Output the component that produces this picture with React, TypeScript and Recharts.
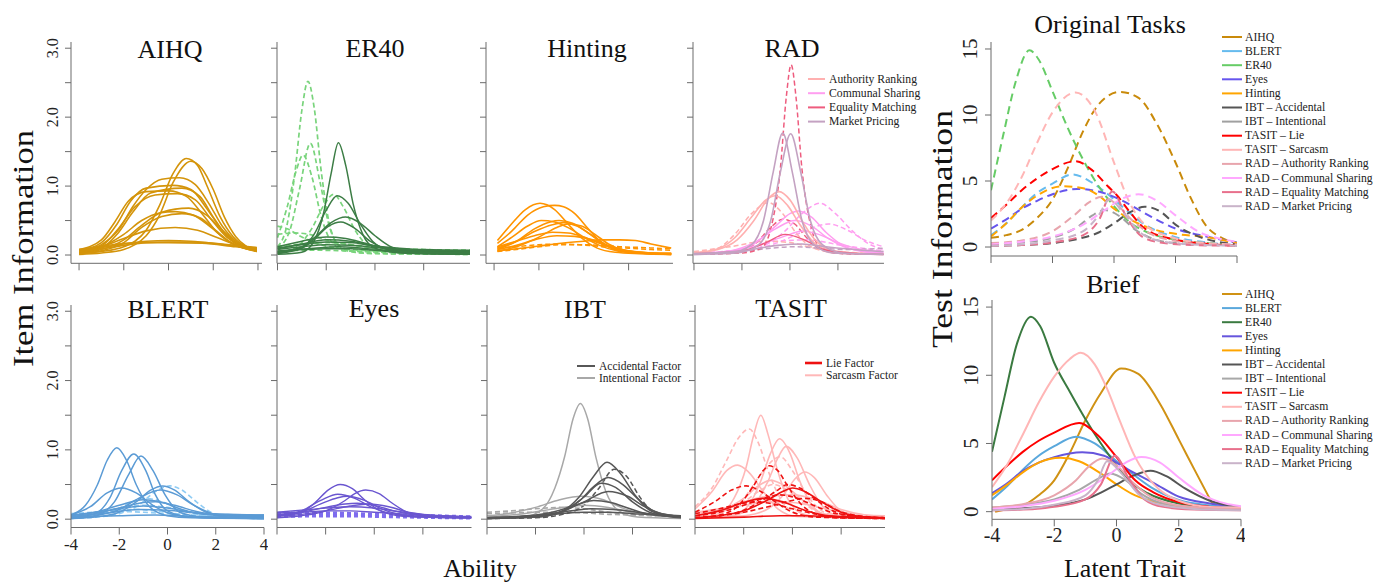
import React from 'react'
import { LineChart, Line, XAxis, YAxis } from 'recharts'

type Curve = [number, number][]

// item information curves, [ability, information]
const aihqItems: Curve[] = [
  [[-4, .02], [-3, .05], [-2, .12], [-1.5, .2], [-1, .36], [-0.4, .72], [0.2, 1.18], [0.8, 1.4], [1.3, 1.3], [1.7, 1.02], [2.3, .56], [2.9, .26], [3.5, .11], [3.95, .06]],
  [[-4, .01], [-3, .03], [-2, .08], [-1.5, .15], [-1, .28], [-0.4, .58], [0.2, 1.05], [1.0, 1.36], [1.5, 1.25], [2, .95], [2.5, .55], [3, .27], [3.5, .12], [3.95, .05]],
  [[-4, .05], [-3, .15], [-2.2, .38], [-1.6, .7], [-1, .95], [-0.3, 1.1], [0.5, 1.12], [1.2, 1.02], [1.8, .75], [2.4, .42], [3, .2], [3.95, .07]],
  [[-4, .06], [-3, .18], [-2.3, .45], [-1.7, .78], [-1, .97], [0.2, 1.01], [1, .95], [1.7, .68], [2.3, .4], [3, .18], [3.95, .07]],
  [[-4, .03], [-3, .1], [-2.3, .3], [-1.6, .62], [-0.8, .9], [0.6, .97], [1.4, .85], [2, .55], [2.6, .28], [3.2, .13], [3.95, .06]],
  [[-4, .08], [-3, .22], [-2.4, .48], [-1.8, .78], [-1, .92], [0, .93], [0.8, .85], [1.5, .6], [2.2, .32], [3, .14], [3.95, .06]],
  [[-4, .04], [-3, .13], [-2.2, .4], [-1.5, .7], [-0.6, .87], [0.4, .89], [1.2, .8], [1.9, .52], [2.6, .26], [3.3, .12], [3.95, .07]],
  [[-4, .03], [-3, .08], [-2, .22], [-1.2, .43], [-0.3, .62], [0.9, .68], [1.7, .58], [2.4, .36], [3.1, .18], [3.95, .08]],
  [[-4, .05], [-3, .12], [-2, .3], [-1.2, .5], [-0.4, .61], [0.3, .63], [1.1, .58], [1.9, .4], [2.6, .22], [3.3, .11], [3.95, .08]],
  [[-4, .02], [-3, .06], [-2, .18], [-1.2, .4], [-0.3, .56], [0.6, .6], [1.4, .54], [2.1, .36], [2.8, .18], [3.95, .05]],
  [[-4, .06], [-3, .12], [-2, .24], [-1, .35], [0.3, .4], [1.3, .36], [2.2, .25], [3, .15], [3.95, .1]],
  [[-4, .07], [-3, .11], [-2, .16], [-1, .2], [0, .21], [1, .2], [2, .17], [3, .13], [3.95, .1]],
  [[-4, .05], [-3, .09], [-2, .14], [-1, .18], [0, .19], [1, .19], [2, .17], [3, .14], [3.95, .11]],
  [[-4, .08], [-2.5, .15], [-1.2, .18], [0, .18], [1.5, .17], [3, .12], [3.95, .09]],
]

const er40Brief: Curve[] = [
  [[-4, .01], [-3, .04], [-2.5, .2], [-2.1, .62], [-1.8, 1.18], [-1.5, 1.63], [-1.2, 1.3], [-0.9, .75], [-0.5, .3], [0, .1], [1, .03], [3.9, .01]],
  [[-4, .02], [-3, .1], [-2.5, .3], [-2, .65], [-1.55, .86], [-1.1, .75], [-0.6, .45], [-0.1, .2], [0.6, .07], [1.5, .03], [3.9, .01]],
  [[-4, .04], [-3, .12], [-2.4, .28], [-1.8, .47], [-1.2, .55], [-0.6, .46], [0, .28], [0.6, .13], [1.4, .05], [3.9, .02]],
  [[-4, .03], [-3, .1], [-2.4, .26], [-1.9, .42], [-1.4, .48], [-0.8, .38], [-0.2, .2], [0.5, .08], [1.5, .03], [3.9, .02]],
  [[-4, .12], [-3, .2], [-2, .26], [-1.2, .24], [-0.3, .16], [0.6, .09], [1.6, .06], [3.9, .05]],
  [[-4, .09], [-3, .16], [-2, .22], [-1, .2], [0, .13], [1, .08], [2, .06], [3.9, .05]],
  [[-4, .1], [-3, .15], [-2, .19], [-1, .18], [0, .13], [1, .1], [2, .08], [3.9, .07]],
  [[-4, .08], [-3, .12], [-2, .15], [-1, .14], [0, .11], [1, .08], [2, .07], [3.9, .06]],
  [[-4, .06], [-2.5, .1], [-1.5, .12], [-0.5, .1], [0.5, .07], [2, .05], [3.9, .04]],
  [[-4, .05], [-2, .09], [-1, .09], [0, .07], [1, .05], [3.9, .03]],
]
const er40Dropped: Curve[] = [
  [[-4, .12], [-3.6, .45], [-3.3, 1.15], [-3.0, 2.1], [-2.75, 2.52], [-2.5, 2.15], [-2.2, 1.2], [-1.9, .5], [-1.5, .15], [-1, .05], [0, .02], [3.9, .01]],
  [[-4, .1], [-3.5, .35], [-3.1, .95], [-2.65, 1.62], [-2.25, 1.05], [-1.9, .45], [-1.4, .12], [-0.5, .03], [3.9, .01]],
  [[-4, .25], [-3.6, .7], [-3.25, 1.2], [-2.95, 1.45], [-2.6, 1.15], [-2.2, .55], [-1.8, .2], [-1.2, .06], [3.9, .02]],
  [[-4, .03], [-3.2, .12], [-2.6, .38], [-2.1, .72], [-1.7, .88], [-1.3, .7], [-0.8, .35], [-0.2, .12], [0.8, .05], [3.9, .02]],
  [[-4, .42], [-3.6, .38], [-3.1, .28], [-2.5, .18], [-1.5, .1], [0, .06], [3.9, .04]],
  [[-4, .3], [-3.3, .32], [-2.7, .3], [-2, .22], [-1, .15], [0, .1], [1, .08], [2, .06], [3.9, .05]],
  [[-4, .12], [-3, .16], [-2, .18], [-1, .15], [0, .11], [1, .09], [2, .08], [3.9, .07]],
  [[-4, .05], [-2.5, .07], [-1, .06], [0.5, .05], [3.9, .04]],
]

const hintingBrief: Curve[] = [
  [[-3.85, .21], [-3.3, .42], [-2.6, .66], [-1.95, .75], [-1.3, .66], [-0.7, .45], [-0.1, .25], [0.6, .1], [1.4, .04], [2.5, .02], [3.9, .01]],
  [[-3.85, .17], [-3.2, .35], [-2.5, .58], [-1.8, .7], [-1.3, .72], [-0.9, .7], [-0.4, .6], [0.2, .38], [0.8, .18], [1.5, .07], [2.5, .03], [3.9, .01]],
  [[-3.85, .12], [-3.2, .26], [-2.5, .42], [-1.9, .5], [-1.3, .48], [-0.6, .38], [0, .26], [0.7, .14], [1.5, .06], [2.5, .03], [3.9, .02]],
  [[-3.85, .08], [-3, .2], [-2.2, .38], [-1.5, .48], [-1.1, .5], [-0.5, .46], [0.2, .32], [0.9, .16], [1.6, .07], [2.5, .03], [3.9, .02]],
  [[-3.85, .1], [-3, .2], [-2.2, .34], [-1.4, .44], [-0.9, .47], [-0.3, .42], [0.4, .28], [1, .15], [1.7, .06], [3, .02], [3.9, .01]],
  [[-3.85, .12], [-3, .2], [-2.2, .28], [-1.4, .33], [-0.7, .32], [0, .26], [0.7, .17], [1.4, .09], [2.5, .04], [3.9, .02]],
  [[-3.85, .08], [-3, .14], [-2.2, .22], [-1.2, .28], [-0.4, .27], [0.4, .22], [1.2, .12], [2, .06], [3, .03], [3.9, .02]],
  [[-3.85, .06], [-3, .09], [-2, .13], [-1, .17], [0, .2], [0.8, .22], [1.6, .22], [2.3, .21], [3, .16], [3.9, .1]],
  [[-3.85, .06], [-3, .12], [-2, .26], [-1.2, .4], [-0.7, .45], [-0.1, .42], [0.5, .3], [1.1, .16], [1.8, .07], [3, .03], [3.9, .02]],
]
const hintingDropped: Curve[] = [
  [[-3.85, .05], [-3, .08], [-2, .12], [-1, .15], [0, .15], [0.8, .14], [1.6, .12], [2.5, .11], [3.2, .1], [3.9, .09]],
  [[-3.85, .1], [-3, .12], [-2, .15], [-1, .16], [-0.2, .15], [0.5, .13], [1.2, .11], [2, .1], [3, .08], [3.9, .07]],
]

const radArBrief: Curve[] = [
  [[-4, .03], [-3, .08], [-2.2, .22], [-1.5, .5], [-0.9, .82], [-0.45, .92], [0, .8], [0.5, .5], [1, .24], [1.7, .07], [3, .02], [3.9, .01]],
  [[-4, .03], [-3, .09], [-2.3, .25], [-1.6, .55], [-1.0, .8], [-0.6, .86], [-0.1, .72], [0.4, .45], [1, .18], [1.7, .05], [3.9, .01]],
]
const radArDropped: Curve[] = [
  [[-4, .03], [-3, .1], [-2.3, .3], [-1.6, .6], [-0.9, .76], [-0.3, .6], [0.3, .3], [1, .1], [2, .03], [3.9, .01]],
  [[-4, .05], [-2.5, .12], [-1, .2], [0, .18], [1, .1], [2, .05], [3.9, .02]],
]
const radCsBrief: Curve[] = [
  [[-4, .01], [-2.5, .05], [-1.5, .16], [-0.6, .42], [0, .6], [0.35, .64], [0.9, .55], [1.5, .33], [2.2, .14], [3, .05], [3.9, .02]],
  [[-4, .02], [-2.5, .06], [-1.5, .18], [-0.6, .38], [0.2, .5], [0.9, .42], [1.6, .24], [2.4, .1], [3.9, .03]],
  [[-4, .02], [-2, .08], [-1, .18], [0, .3], [0.5, .35], [1.2, .3], [2, .18], [3, .08], [3.9, .05]],
]
const radCsDropped: Curve[] = [
  [[-4, .01], [-2, .05], [-1, .15], [-0.2, .35], [0.5, .6], [1.25, .75], [1.9, .6], [2.6, .35], [3.3, .16], [3.9, .08]],
  [[-4, .02], [-2, .06], [-0.5, .18], [0.5, .33], [1.6, .45], [2.4, .36], [3.1, .22], [3.9, .12]],
  [[-4, .03], [-2, .08], [-0.5, .2], [0.8, .22], [2, .15], [3.9, .06]],
]
const radEmBrief: Curve[] = [
  [[-4, .02], [-2, .06], [-1, .18], [-0.2, .3], [0.6, .22], [1.4, .08], [2.5, .03], [3.9, .01]],
]
const radEmDropped: Curve[] = [
  [[-4, .01], [-2, .03], [-1.2, .1], [-0.8, .38], [-0.4, 1.25], [-0.15, 2.3], [0.05, 2.76], [0.25, 2.3], [0.5, 1.25], [0.9, .38], [1.3, .1], [2, .03], [3.9, .01]],
  [[-4, .01], [-2.5, .04], [-1.5, .15], [-0.8, .4], [-0.3, .52], [0.2, .45], [0.7, .25], [1.3, .08], [2.2, .02], [3.9, .01]],
]
const radMpBrief: Curve[] = [
  [[-4, .01], [-2.5, .03], [-1.6, .15], [-1.1, .5], [-0.7, 1.2], [-0.3, 1.77], [0.1, 1.2], [0.5, .5], [1, .15], [1.8, .03], [3.9, .01]],
  [[-4, .01], [-2.2, .03], [-1.3, .15], [-0.8, .5], [-0.4, 1.2], [0.03, 1.76], [0.45, 1.2], [0.85, .5], [1.35, .15], [2.2, .03], [3.9, .01]],
  [[-4, .02], [-2, .06], [-0.5, .14], [0.5, .16], [1.5, .12], [3, .07], [3.9, .05]],
]
const radMpDropped: Curve[] = [
  [[-4, .02], [-2, .05], [-0.8, .1], [0.2, .12], [1.2, .1], [2.4, .08], [3.9, .1]],
]

const blertBrief: Curve[] = [
  [[-4, .06], [-3.4, .2], [-2.9, .5], [-2.5, .85], [-2.1, 1.03], [-1.7, .85], [-1.3, .5], [-0.8, .2], [0, .05], [1, .02], [4, .01]],
  [[-4, .02], [-3, .08], [-2.4, .3], [-1.9, .7], [-1.4, .94], [-0.9, .7], [-0.5, .35], [0, .12], [1, .03], [4, .01]],
  [[-4, .01], [-3, .05], [-2.2, .25], [-1.6, .65], [-1.1, .91], [-0.6, .7], [-0.1, .35], [0.5, .1], [1.5, .03], [4, .01]],
  [[-4, .06], [-3.2, .18], [-2.5, .38], [-1.9, .45], [-1.3, .38], [-0.6, .2], [0.2, .07], [1.5, .02], [4, .01]],
  [[-4, .01], [-3, .03], [-2, .1], [-1.3, .25], [-0.7, .42], [-0.2, .48], [0.3, .42], [0.9, .25], [1.6, .1], [2.5, .03], [4, .01]],
  [[-4, .02], [-3, .05], [-2, .14], [-1.2, .3], [-0.3, .42], [0.4, .35], [1.1, .2], [2, .07], [4, .02]],
  [[-4, .05], [-3, .1], [-2, .2], [-1, .28], [-0.2, .24], [0.6, .14], [1.5, .07], [2.5, .05], [4, .04]],
  [[-4, .03], [-3, .08], [-2, .16], [-1, .24], [-0.5, .25], [0.3, .2], [1.2, .11], [2.2, .06], [4, .05]],
  [[-4, .06], [-3, .1], [-2, .15], [-1, .19], [0, .16], [1, .1], [2, .07], [4, .06]],
  [[-4, .04], [-2.5, .09], [-1.2, .14], [0, .13], [1.2, .09], [2.5, .07], [4, .06]],
  [[-4, .03], [-2, .05], [-0.5, .06], [1, .04], [4, .03]],
]
const blertDropped: Curve[] = [
  [[-4, .01], [-3, .03], [-2, .08], [-1.2, .2], [-0.5, .4], [0.1, .48], [0.6, .42], [1.2, .25], [1.8, .1], [2.5, .04], [4, .02]],
  [[-4, .02], [-3, .06], [-2, .16], [-1.4, .26], [-0.9, .3], [-0.3, .26], [0.4, .16], [1.2, .07], [2.5, .02], [4, .01]],
  [[-4, .04], [-3, .1], [-2, .16], [-1, .2], [0, .17], [1, .1], [2, .05], [4, .03]],
  [[-4, .08], [-3, .1], [-2, .11], [-1, .1], [0, .08], [1, .06], [2.5, .04], [4, .03]],
  [[-4, .05], [-3, .09], [-2, .13], [-1.5, .14], [-0.5, .12], [0.5, .07], [1.5, .04], [4, .02]],
]

const eyesBrief: Curve[] = [
  [[-4, .05], [-3, .1], [-2.4, .25], [-1.9, .42], [-1.4, .5], [-0.9, .44], [-0.4, .28], [0.2, .13], [1, .05], [2, .03], [4, .02]],
  [[-4, .02], [-3, .05], [-2, .12], [-1.2, .27], [-0.8, .37], [-0.35, .42], [0.2, .37], [0.7, .24], [1.3, .11], [2.2, .04], [4, .02]],
  [[-4, .06], [-3, .12], [-2.2, .27], [-1.5, .36], [-0.8, .3], [-0.1, .17], [0.7, .08], [2, .03], [4, .02]],
  [[-4, .05], [-3, .1], [-2.2, .22], [-1.5, .31], [-1.1, .33], [-0.4, .27], [0.3, .15], [1.2, .06], [2.5, .03], [4, .02]],
  [[-4, .06], [-3, .1], [-2, .17], [-1.2, .22], [-0.7, .23], [0, .2], [0.8, .12], [1.8, .06], [4, .03]],
  [[-4, .04], [-3, .07], [-2, .12], [-1, .19], [-0.2, .22], [0.6, .18], [1.4, .1], [2.5, .05], [4, .03]],
  [[-4, .1], [-3, .13], [-2, .16], [-1, .18], [0, .16], [1, .11], [2, .07], [4, .04]],
  [[-4, .09], [-3, .1], [-2, .12], [-1, .12], [0, .1], [1, .08], [2.5, .05], [4, .03]],
]
const eyesDropped: Curve[] = [
  [[-4, .04], [-2.5, .05], [-1, .05], [0.5, .04], [2, .03], [4, .02]],
  [[-4, .08], [-2.5, .09], [-1, .08], [0.5, .06], [2, .05], [4, .03]],
]

const ibtIntBrief: Curve[] = [
  [[-4, .01], [-2.5, .03], [-1.7, .15], [-1.2, .45], [-0.8, .9], [-0.45, 1.45], [-0.15, 1.67], [0.15, 1.45], [0.5, .88], [0.9, .4], [1.4, .13], [2.2, .03], [4, .01]],
  [[-4, .05], [-3, .09], [-2, .17], [-1, .28], [-0.1, .33], [0.8, .28], [1.6, .16], [2.5, .07], [4, .03]],
  [[-4, .03], [-2.5, .08], [-1, .16], [0, .2], [1, .17], [2, .1], [3, .06], [4, .04]],
]
const ibtIntDropped: Curve[] = [
  [[-4, .1], [-3, .12], [-2, .15], [-1, .17], [0, .15], [1, .1], [2, .07], [3, .05], [4, .04]],
  [[-4, .08], [-3, .09], [-2, .1], [-1, .1], [0, .09], [1, .07], [2, .06], [4, .04]],
]
const ibtAccBrief: Curve[] = [
  [[-4, .01], [-2, .03], [-1, .1], [-0.2, .32], [0.4, .62], [0.95, .82], [1.5, .66], [2.1, .35], [2.7, .13], [3.4, .05], [4, .03]],
  [[-4, .01], [-2, .03], [-1, .1], [-0.2, .26], [0.4, .47], [1, .6], [1.6, .5], [2.2, .3], [2.8, .13], [3.5, .06], [4, .04]],
  [[-4, .02], [-2, .05], [-1, .1], [0, .25], [1, .4], [1.8, .33], [2.5, .18], [3.2, .08], [4, .04]],
  [[-4, .01], [-2, .03], [-0.8, .12], [0, .32], [0.7, .52], [1.3, .46], [2, .25], [2.7, .1], [3.5, .04], [4, .02]],
  [[-4, .02], [-2, .06], [-1, .13], [-0.2, .22], [0.4, .27], [1.1, .24], [1.9, .15], [2.7, .07], [4, .03]],
  [[-4, .02], [-2, .05], [-1, .08], [0, .1], [1, .1], [2, .08], [3, .06], [4, .05]],
  [[-4, .02], [-2, .05], [-0.5, .12], [0.3, .15], [1.2, .14], [2.2, .1], [3.2, .06], [4, .05]],
]
const ibtAccDropped: Curve[] = [
  [[-4, .01], [-2, .02], [-1, .06], [0, .2], [0.6, .44], [1.25, .72], [1.8, .6], [2.3, .32], [2.8, .12], [3.4, .05], [4, .03]],
]

const tasitSarcBrief: Curve[] = [
  [[-4, .03], [-3, .08], [-2.4, .3], [-1.9, .75], [-1.6, 1.2], [-1.3, 1.5], [-1, 1.22], [-0.65, .75], [-0.2, .3], [0.4, .08], [1.2, .03], [3.8, .02]],
  [[-4, .02], [-2.5, .05], [-1.8, .2], [-1.3, .55], [-0.9, .95], [-0.53, 1.16], [-0.1, .95], [0.3, .55], [0.8, .2], [1.5, .05], [3.8, .02]],
  [[-4, .02], [-2.5, .05], [-1.6, .2], [-1, .55], [-0.6, .88], [-0.26, 1.05], [0.2, .88], [0.7, .5], [1.2, .2], [1.9, .05], [3.8, .02]],
  [[-4, .02], [-2, .05], [-1, .15], [-0.3, .38], [0.1, .58], [0.5, .68], [0.9, .6], [1.4, .35], [2, .12], [2.8, .04], [3.8, .03]],
  [[-4, .15], [-3.3, .4], [-2.7, .7], [-2.25, .78], [-1.8, .68], [-1.2, .4], [-0.6, .15], [0.2, .04], [3.8, .02]],
  [[-4, .05], [-3, .12], [-2, .3], [-1.4, .48], [-0.9, .56], [-0.3, .48], [0.4, .28], [1.1, .1], [2, .04], [3.8, .03]],
  [[-4, .08], [-3, .14], [-2, .25], [-1, .33], [0, .35], [1, .28], [2, .14], [3, .06], [3.8, .04]],
  [[-4, .1], [-3, .15], [-2, .2], [-1, .25], [0, .24], [1, .18], [2, .1], [3, .06], [3.8, .05]],
]
const tasitSarcDropped: Curve[] = [
  [[-4, .18], [-3.3, .45], [-2.7, .85], [-2.2, 1.18], [-1.77, 1.3], [-1.4, 1.1], [-1, .7], [-0.5, .3], [0.2, .08], [1, .03], [3.8, .02]],
  [[-4, .05], [-3, .1], [-2, .3], [-1.4, .6], [-0.9, .82], [-0.5, .9], [0, .7], [0.6, .35], [1.3, .1], [2.2, .03], [3.8, .02]],
  [[-4, .04], [-3, .1], [-2, .25], [-1.3, .42], [-0.8, .5], [-0.2, .42], [0.5, .22], [1.3, .07], [3.8, .02]],
]
const tasitLieBrief: Curve[] = [
  [[-4, .02], [-3, .05], [-2, .12], [-1, .28], [-0.4, .4], [0, .45], [0.5, .4], [1.2, .25], [2, .1], [3, .03], [3.8, .02]],
  [[-4, .05], [-3, .12], [-2, .24], [-1.2, .3], [-0.4, .25], [0.5, .13], [1.5, .05], [3.8, .02]],
  [[-4, .01], [-2, .03], [-0.5, .05], [0.5, .05], [2, .03], [3.8, .01]],
]
const tasitLieDropped: Curve[] = [
  [[-4, .02], [-3, .06], [-2.2, .2], [-1.6, .48], [-1.2, .7], [-0.95, .77], [-0.6, .7], [-0.2, .48], [0.4, .2], [1.1, .06], [2, .02], [3.8, .01]],
  [[-4, .02], [-3, .05], [-2, .13], [-1.2, .28], [-0.6, .42], [-0.2, .5], [0.3, .45], [0.9, .3], [1.5, .15], [2.3, .05], [3.8, .02]],
  [[-4, .1], [-3.2, .25], [-2.5, .42], [-1.9, .48], [-1.3, .4], [-0.7, .25], [0, .1], [1, .03], [3.8, .01]],
  [[-4, .05], [-3, .1], [-2, .2], [-1, .32], [-0.5, .35], [0.2, .3], [1, .18], [1.8, .08], [3.8, .02]],
  [[-4, .02], [-3, .05], [-2, .1], [-1, .18], [0, .27], [0.5, .3], [1.2, .25], [1.9, .12], [2.7, .05], [3.8, .02]],
  [[-4, .08], [-3, .15], [-2, .23], [-1.5, .25], [-0.8, .22], [0, .15], [1, .07], [2, .03], [3.8, .02]],
]

// test information, original tasks (dashed) and brief forms (solid)
const taskNames = ['AIHQ', 'BLERT', 'ER40', 'Eyes', 'Hinting', 'IBT – Accidental', 'IBT – Intentional', 'TASIT – Lie', 'TASIT – Sarcasm', 'RAD – Authority Ranking', 'RAD – Communal Sharing', 'RAD – Equality Matching', 'RAD – Market Pricing']

const originalInfo: Curve[] = [
  [[-4, .7], [-3.5, .9], [-3, 1.3], [-2.5, 2.2], [-2, 3.6], [-1.5, 6], [-1, 8.8], [-0.5, 10.8], [0.2, 11.75], [0.8, 11.3], [1.4, 9.3], [2, 6.4], [2.5, 3.7], [3, 1.6], [3.5, .7], [4, .3]],
  [[-4, .9], [-3.5, 1.8], [-3, 3], [-2.5, 4.1], [-2, 4.8], [-1.35, 5.5], [-0.8, 5], [-0.2, 4], [0.4, 2.8], [1, 1.7], [2, .75], [3, .35], [4, .15]],
  [[-4, 4.3], [-3.6, 8.5], [-3.2, 12.5], [-2.75, 14.9], [-2.45, 14.2], [-2, 11.8], [-1.5, 9], [-1, 6.6], [-0.5, 4.6], [0, 3.1], [0.5, 1.9], [1, 1.2], [2, .55], [3, .3], [4, .2]],
  [[-4, 1.4], [-3.5, 2.1], [-3, 2.9], [-2.5, 3.5], [-2, 4], [-1.2, 4.4], [-0.5, 4.2], [0, 3.8], [0.6, 3.1], [1.2, 2.3], [2, 1.4], [3, .8], [4, .35]],
  [[-4, .8], [-3.5, 1.8], [-3, 3], [-2.5, 3.9], [-1.7, 4.6], [-1, 4.45], [-0.5, 3.9], [0, 2.9], [0.6, 2], [1.2, 1.4], [2, 1], [3, .75], [4, .3]],
  [[-4, .1], [-3, .15], [-2, .3], [-1.2, .6], [-0.5, 1.1], [0, 1.8], [0.5, 2.6], [1, 3.05], [1.5, 2.7], [2, 1.7], [2.8, .75], [3.5, .35], [4, .2]],
  [[-4, .2], [-3, .35], [-2, .7], [-1.2, 1.5], [-0.7, 2.4], [-0.3, 2.8], [0.2, 2.3], [0.7, 1.3], [1.3, .6], [2, .3], [3, .2], [4, .1]],
  [[-4, 2.2], [-3.5, 3.2], [-3, 4.3], [-2.5, 5.2], [-2, 5.9], [-1.25, 6.5], [-0.7, 5.8], [-0.2, 4.6], [0.1, 3.9], [0.5, 2.7], [1, 1.4], [2, .55], [3, .25], [4, .1]],
  [[-4, 2], [-3.5, 3.3], [-3, 5.3], [-2.5, 7.9], [-2, 10.2], [-1.25, 11.7], [-0.6, 10.2], [0, 6.4], [0.5, 3.4], [1, 1.7], [2, .65], [3, .3], [4, .2]],
  [[-4, .3], [-3, .5], [-2, 1.2], [-1.3, 2.4], [-0.8, 3.4], [-0.4, 3.8], [0.1, 3.2], [0.6, 2], [1.2, 1], [2, .45], [3, .2], [4, .15]],
  [[-4, .2], [-3, .4], [-2, .8], [-1, 1.7], [-0.3, 2.8], [0.3, 3.7], [0.8, 4], [1.4, 3.5], [2, 2.4], [2.8, 1.1], [3.5, .6], [4, .4]],
  [[-4, .1], [-3, .15], [-2, .35], [-1, .9], [-0.5, 2], [-0.05, 4.2], [0.4, 2.3], [0.9, .8], [1.5, .35], [2.5, .15], [4, .1]],
  [[-4, .1], [-3, .2], [-2, .5], [-1, 1.2], [-0.5, 2.4], [-0.15, 3.6], [0.3, 2.6], [0.8, 1.2], [1.5, .45], [2.5, .2], [4, .1]],
]
const briefInfo: Curve[] = [
  [[-3.9, 0], [-3.5, .2], [-3, .45], [-2.5, 1.2], [-2, 2.3], [-1.5, 4.3], [-1, 6.7], [-0.5, 8.7], [0.15, 10.5], [0.7, 10.1], [1.4, 7.9], [2, 5.3], [2.5, 3.1], [3.1, .5]],
  [[-4, .9], [-3.5, 1.9], [-3, 3.1], [-2.5, 4.1], [-2, 4.8], [-1.3, 5.5], [-0.7, 5], [-0.1, 3.9], [0.5, 2.8], [1.1, 1.8], [2, .85], [3, .45], [4, .3]],
  [[-4, 4.4], [-3.6, 8.4], [-3.2, 12.3], [-2.75, 14.3], [-2.45, 13.6], [-2, 10.9], [-1.5, 8.8], [-1, 6.8], [-0.5, 5], [0, 3.4], [0.5, 2.1], [1, 1.35], [2, .6], [3, .3], [4, .2]],
  [[-4, 1.35], [-3.5, 2.1], [-3, 3], [-2.5, 3.6], [-2, 4], [-1.1, 4.35], [-0.4, 4.1], [0, 3.6], [0.6, 2.8], [1.2, 2.1], [2, 1.1], [3, .6], [4, .35]],
  [[-4, 1.2], [-3.5, 2], [-3, 2.9], [-2.5, 3.6], [-1.8, 3.95], [-1.2, 3.7], [-0.5, 2.8], [0, 2], [0.5, 1.3], [1, .85], [2, .4], [3.4, .2]],
  [[-4, .2], [-3, .25], [-2, .45], [-1, .9], [-0.5, 1.4], [0, 2], [0.5, 2.6], [1.1, 3], [1.6, 2.6], [2.2, 1.7], [3, .8], [4, .35]],
  [[-4, .3], [-3, .5], [-2, .9], [-1.2, 1.6], [-0.6, 2.4], [-0.2, 2.8], [0.3, 2.3], [0.8, 1.3], [1.5, .6], [2.5, .35], [4, .3]],
  [[-4, 2.3], [-3.5, 3.4], [-3, 4.4], [-2.5, 5.2], [-2, 5.8], [-1.2, 6.5], [-0.6, 5.6], [0, 4], [0.6, 2.3], [1.2, 1.4], [2, .7], [3, .35], [4, .2]],
  [[-4, 1.8], [-3.5, 3.5], [-3, 5.7], [-2.5, 8], [-2, 9.9], [-1.5, 11.2], [-1.15, 11.65], [-0.7, 10.8], [-0.3, 9], [0.1, 6.7], [0.6, 4], [1.2, 2], [2, .8], [3, .35], [4, .3]],
  [[-4, .3], [-3, .55], [-2, 1.2], [-1.3, 2.3], [-0.9, 3.3], [-0.45, 3.9], [0, 3.4], [0.5, 2.2], [1.1, 1.1], [2, .45], [3, .25], [4, .2]],
  [[-4, .2], [-3, .4], [-2, .8], [-1, 1.6], [-0.3, 2.6], [0.3, 3.6], [0.8, 4], [1.4, 3.6], [2, 2.5], [2.8, 1.2], [3.5, .6], [4, .4]],
  [[-4, .1], [-3, .15], [-2, .35], [-1, .9], [-0.5, 2], [-0.05, 4.1], [0.4, 2.4], [0.9, .9], [1.5, .35], [2.5, .15], [4, .1]],
  [[-4, .1], [-3, .2], [-2, .5], [-1, 1.2], [-0.6, 2.3], [-0.3, 3.7], [0.2, 2.7], [0.7, 1.3], [1.4, .5], [2.5, .2], [4, .1]],
]

const abilityTicks = [-4, -2, 0, 2, 4]
const itemInfoTicks = [0, 0.5, 1, 1.5, 2, 2.5, 3]
const testInfoTicks = [0, 5, 10, 15]

const FONT = "'Liberation Serif', 'Times New Roman', serif"
const AXIS = '#6b6b6b'
const AX = 60
const BX = 36
const MT = 14

const C = {
  aihq: '#D4940A', er40: '#3C7D45', er40Light: '#79D47C', hint: '#FF9400',
  blert: '#5B9BD5', blertLight: '#90CCF4', eyes: '#6A56D0', eyesLight: '#7E6CEE',
  acc: '#575757', int: '#A8A8A8', lie: '#EE1111', sarc: '#FFB8B8',
  ar: '#FFB0B0', cs: '#FF9EF0', em: '#EE5C7E', mp: '#C4A2C2',
}
const origColors = ['#C98A0A', '#66BBEE', '#66CC66', '#6655EE', '#FFA500', '#555555', '#A0A0A0', '#FF0000', '#FFB6B6', '#E8A5AD', '#FFA8FF', '#E8708C', '#C9B3C9']
const briefColors = ['#D09214', '#5AA8DC', '#3A7A40', '#6655DD', '#FFA500', '#555555', '#A8A8A8', '#FF0000', '#FFB6B6', '#E8A5AD', '#FFA8FF', '#E8708C', '#C9B3C9']

type Group = { curves: Curve[]; color: string; dash?: string; width?: number }

interface PanelProps {
  left: number
  right: number
  top: number
  height: number
  xDomain: [number, number]
  yDomain: [number, number]
  xTicks: number[]
  yTicks: number[]
  groups: Group[]
  yLabels?: 'item' | 'test'
  xLabelSize?: number
}

const blank = () => <g />

function CurvePanel({ left, right, top, height, xDomain, yDomain, xTicks, yTicks, groups, yLabels, xLabelSize }: PanelProps) {
  const width = right - left
  const yTick = (p: any) => {
    const v = p.payload.value
    if (yLabels === 'item' && v % 1 !== 0) return <g />
    const bx = yLabels === 'item' ? AX - 13 : AX - 14
    const txt = yLabels === 'item' ? v.toFixed(1) : String(v)
    return (
      <text x={bx} y={p.y} transform={`rotate(-90 ${bx} ${p.y})`} textAnchor="middle"
        fontSize={yLabels === 'item' ? 16 : 21} fontFamily={FONT} fill="#222">{txt}</text>
    )
  }
  const xTick = (p: any) => (
    <text x={p.x} y={MT + height + (xLabelSize && xLabelSize > 18 ? 23 : 22)} textAnchor="middle"
      fontSize={xLabelSize} fontFamily={FONT} fill="#222">{p.payload.value}</text>
  )
  return (
    <div style={{ position: 'absolute', left: left - AX, top: top - MT }}>
      <LineChart width={width + AX + 4} height={height + BX + MT} margin={{ top: MT, right: 4, bottom: 0, left: 0 }}>
        <XAxis type="number" dataKey="x" domain={xDomain} ticks={xTicks} interval={0} allowDataOverflow
          height={BX} stroke={AXIS} tickSize={7} tick={xLabelSize ? xTick : blank} />
        <YAxis type="number" domain={yDomain} ticks={yTicks} interval={0} allowDataOverflow
          width={AX} stroke={AXIS} tickSize={6} tick={yLabels ? yTick : blank} />
        {groups.flatMap((g, gi) =>
          g.curves.map((c, ci) => (
            <Line key={`${gi}-${ci}`} data={c.map(([x, y]) => ({ x, y }))} dataKey="y" type="monotone"
              stroke={g.color} strokeWidth={g.width ?? 1.4} strokeDasharray={g.dash}
              dot={false} isAnimationActive={false} />
          ))
        )}
      </LineChart>
    </div>
  )
}

const D = '5 3'
const itemY: [number, number] = [-0.12, 3.09]
const TOP1 = 42, H1 = 221.3
const TOP2 = 304.8, H2 = 222.5

const itemPanels: (PanelProps & { key: string })[] = [
  { key: 'aihq', left: 71, right: 262, top: TOP1, height: H1, xDomain: [-4.36, 4.18], yDomain: itemY, xTicks: abilityTicks, yTicks: itemInfoTicks, yLabels: 'item',
    groups: [{ curves: aihqItems, color: C.aihq, width: 1.6 }] },
  { key: 'er40', left: 277, right: 470, top: TOP1, height: H1, xDomain: [-4.02, 3.9], yDomain: itemY, xTicks: abilityTicks.slice(0, 4), yTicks: itemInfoTicks,
    groups: [{ curves: er40Dropped, color: C.er40Light, dash: D, width: 1.7 }, { curves: er40Brief, color: C.er40, width: 1.5 }] },
  { key: 'hint', left: 486, right: 673, top: TOP1, height: H1, xDomain: [-4.36, 3.98], yDomain: itemY, xTicks: abilityTicks.slice(0, 4), yTicks: itemInfoTicks,
    groups: [{ curves: hintingDropped, color: C.hint, dash: D, width: 1.5 }, { curves: hintingBrief, color: C.hint, width: 1.6 }] },
  { key: 'rad', left: 693, right: 884, top: TOP1, height: H1, xDomain: [-4.04, 3.92], yDomain: itemY, xTicks: abilityTicks.slice(0, 4), yTicks: itemInfoTicks,
    groups: [
      { curves: radCsDropped, color: C.cs, dash: D, width: 1.5 }, { curves: radArDropped, color: C.ar, dash: D, width: 1.5 },
      { curves: radMpDropped, color: C.mp, dash: D, width: 1.5 }, { curves: radEmDropped, color: C.em, dash: D, width: 1.5 },
      { curves: radCsBrief, color: C.cs, width: 1.5 }, { curves: radArBrief, color: C.ar, width: 1.6 },
      { curves: radEmBrief, color: C.em, width: 1.4 }, { curves: radMpBrief, color: C.mp, width: 1.6 },
    ] },
  { key: 'blert', left: 71, right: 264, top: TOP2, height: H2, xDomain: [-4, 4], yDomain: itemY, xTicks: abilityTicks, yTicks: itemInfoTicks, yLabels: 'item', xLabelSize: 17,
    groups: [{ curves: blertDropped, color: C.blertLight, dash: D, width: 1.6 }, { curves: blertBrief, color: C.blert, width: 1.5 }] },
  { key: 'eyes', left: 277, right: 471.5, top: TOP2, height: H2, xDomain: [-4, 4], yDomain: itemY, xTicks: abilityTicks.slice(0, 4), yTicks: itemInfoTicks,
    groups: [{ curves: eyesDropped, color: C.eyesLight, dash: '4 3', width: 3.5 }, { curves: eyesBrief, color: C.eyes, width: 1.4 }] },
  { key: 'ibt', left: 487, right: 681, top: TOP2, height: H2, xDomain: [-4, 4], yDomain: itemY, xTicks: abilityTicks.slice(0, 4), yTicks: itemInfoTicks,
    groups: [
      { curves: ibtIntDropped, color: C.int, dash: D, width: 1.6 }, { curves: ibtAccDropped, color: C.acc, dash: D, width: 1.5 },
      { curves: ibtIntBrief, color: C.int, width: 1.5 }, { curves: ibtAccBrief, color: C.acc, width: 1.5 },
    ] },
  { key: 'tasit', left: 695, right: 885, top: TOP2, height: H2, xDomain: [-4, 3.8], yDomain: itemY, xTicks: abilityTicks.slice(0, 4), yTicks: itemInfoTicks,
    groups: [
      { curves: tasitSarcBrief, color: C.sarc, width: 1.6 }, { curves: tasitSarcDropped, color: C.sarc, dash: D, width: 1.6 },
      { curves: tasitLieDropped, color: C.lie, dash: D, width: 1.6 }, { curves: tasitLieBrief, color: C.lie, width: 1.6 },
    ] },
]

const titles = [
  { t: 'AIHQ', x: 170, y: 58 }, { t: 'ER40', x: 375, y: 57 }, { t: 'Hinting', x: 587, y: 57 }, { t: 'RAD', x: 792, y: 57 },
  { t: 'BLERT', x: 168, y: 318 }, { t: 'Eyes', x: 374, y: 317 }, { t: 'IBT', x: 585, y: 318 }, { t: 'TASIT', x: 791, y: 317 },
  { t: 'Original Tasks', x: 1110, y: 33 }, { t: 'Brief', x: 1113, y: 293 },
]

const smallLegends = [
  { x: 808, y: 79, step: 14.2, len: 17, size: 11.7, items: [['Authority Ranking', C.ar], ['Communal Sharing', C.cs], ['Equality Matching', C.em], ['Market Pricing', C.mp]] },
  { x: 577, y: 366, step: 12, len: 18, size: 11.5, items: [['Accidental Factor', C.acc], ['Intentional Factor', C.int]] },
  { x: 805, y: 363, step: 12.3, len: 17, size: 11.6, items: [['Lie Factor', C.lie], ['Sarcasm Factor', C.sarc]] },
]

export default function App() {
  return (
    <div style={{ position: 'absolute', left: 0, top: 0, width: 1386, height: 583, background: '#fff', overflow: 'hidden', fontFamily: FONT }}>
      {itemPanels.map(({ key, ...p }) => <CurvePanel key={key} {...p} />)}
      <CurvePanel left={991} right={1237} top={42} height={214} xDomain={[-4, 4]} yDomain={[-0.68, 15.53]}
        xTicks={abilityTicks} yTicks={testInfoTicks} yLabels="test"
        groups={originalInfo.map((c, i) => ({ curves: [c], color: origColors[i], dash: '8 5', width: 2 }))} />
      <CurvePanel left={992} right={1241} top={300} height={219.3} xDomain={[-4, 4]} yDomain={[-0.56, 15.52]}
        xTicks={abilityTicks} yTicks={testInfoTicks} yLabels="test" xLabelSize={20}
        groups={briefInfo.map((c, i) => ({ curves: [c], color: briefColors[i], width: 2 }))} />
      <svg width={1386} height={583} style={{ position: 'absolute', left: 0, top: 0, pointerEvents: 'none' }}>
        {titles.map((t) => (
          <text key={t.t} x={t.x} y={t.y} textAnchor="middle" fontSize={26} fontFamily={FONT} fill="#111">{t.t}</text>
        ))}
        <text x={33} y={248.5} transform="rotate(-90 33 248.5)" textAnchor="middle" fontSize={30} fontFamily={FONT}
          textLength={237} lengthAdjust="spacingAndGlyphs" fill="#111">Item Information</text>
        <text x={952} y={229} transform="rotate(-90 952 229)" textAnchor="middle" fontSize={30} fontFamily={FONT}
          textLength={238} lengthAdjust="spacingAndGlyphs" fill="#111">Test Information</text>
        <text x={480} y={577} textAnchor="middle" fontSize={26} fontFamily={FONT} fill="#111">Ability</text>
        <text x={1125} y={577} textAnchor="middle" fontSize={26} fontFamily={FONT} fill="#111">Latent Trait</text>
        {smallLegends.map((lg, li) => lg.items.map(([name, col], i) => (
          <g key={`${li}-${i}`}>
            <line x1={lg.x} x2={lg.x + lg.len} y1={lg.y + i * lg.step} y2={lg.y + i * lg.step} stroke={col} strokeWidth={li === 2 && i === 0 ? 2.6 : 2} />
            <text x={lg.x + lg.len + 4} y={lg.y + i * lg.step} dominantBaseline="central" fontSize={lg.size} fontFamily={FONT} fill="#222">{name}</text>
          </g>
        )))}
        {[{ y: 37, cols: origColors }, { y: 294, cols: briefColors }].map((lg, li) => taskNames.map((name, i) => (
          <g key={`r${li}-${i}`}>
            <line x1={1222} x2={1242} y1={lg.y + i * 14.1} y2={lg.y + i * 14.1} stroke={lg.cols[i]} strokeWidth={2} />
            <text x={1245} y={lg.y + i * 14.1} dominantBaseline="central" fontSize={11.7} fontFamily={FONT} fill="#222">{name}</text>
          </g>
        )))}
      </svg>
    </div>
  )
}
